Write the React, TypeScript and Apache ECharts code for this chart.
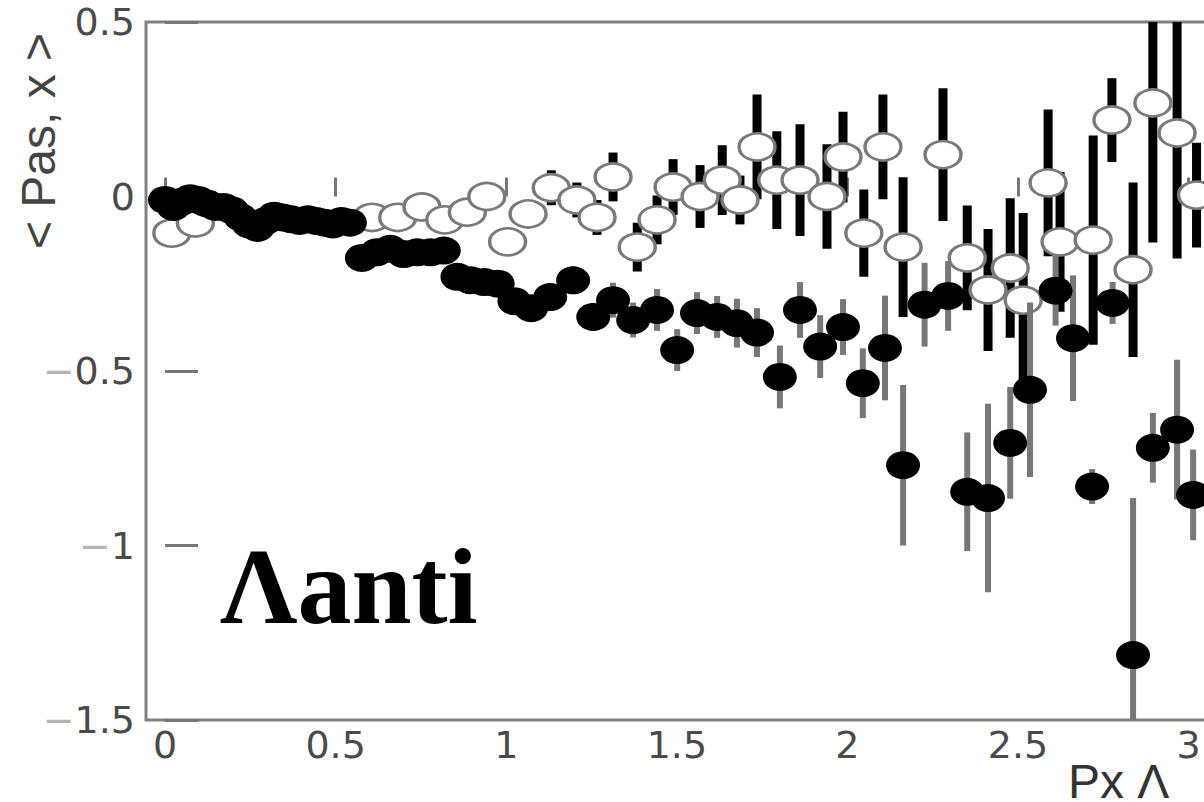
import { useEffect, useRef } from 'react';
import * as echarts from 'echarts';

const X_TICKS = [0, 0.5, 1, 1.5, 2, 2.5, 3];
const Y_TICKS = [-1.5, -1, -0.5, 0, 0.5];

// filled markers (Λanti)
const FILLED_X = [
  0, 0.025, 0.049, 0.074, 0.098, 0.123, 0.148, 0.172, 0.197, 0.222, 0.246, 0.271, 0.295, 0.32, 0.345, 0.369, 0.394, 0.419, 0.443, 0.468, 0.492, 0.517, 0.542,
  0.577, 0.62, 0.66, 0.699, 0.739, 0.778, 0.817, 0.857, 0.896, 0.936, 0.975, 1.024, 1.073,
  1.129, 1.196, 1.255, 1.313, 1.372, 1.442, 1.501, 1.559, 1.618, 1.676, 1.735, 1.802, 1.861, 1.92, 1.987,
  2.045, 2.11, 2.163, 2.226, 2.295, 2.351, 2.412, 2.477, 2.535, 2.61, 2.661, 2.717, 2.777, 2.837, 2.895, 2.966, 3.013,
];
const FILLED_Y = [
  -0.01, -0.03, -0.015, -0.005, -0.01, -0.02, -0.03, -0.03, -0.04, -0.06, -0.08, -0.09, -0.07, -0.055, -0.06, -0.065, -0.07, -0.065, -0.07, -0.075, -0.08, -0.07, -0.075,
  -0.176, -0.16, -0.15, -0.165, -0.16, -0.16, -0.155, -0.23, -0.24, -0.245, -0.25, -0.3, -0.32,
  -0.288, -0.24, -0.345, -0.297, -0.354, -0.325, -0.44, -0.334, -0.345, -0.363, -0.39, -0.517, -0.325, -0.43, -0.374,
  -0.535, -0.434, -0.77, -0.31, -0.285, -0.846, -0.864, -0.706, -0.554, -0.27, -0.406, -0.831, -0.305, -1.314, -0.72, -0.668, -0.855,
];
const FILLED_ERR = [
  0.02, 0.02, 0.02, 0.02, 0.02, 0.02, 0.02, 0.02, 0.02, 0.02, 0.02, 0.02, 0.02, 0.02, 0.02, 0.02, 0.02, 0.02, 0.02, 0.02, 0.02, 0.02, 0.02,
  0.03, 0.03, 0.03, 0.03, 0.03, 0.03, 0.03, 0.03, 0.03, 0.03, 0.03, 0.03, 0.03,
  0.04, 0.04, 0.04, 0.05, 0.05, 0.06, 0.06, 0.06, 0.06, 0.07, 0.07, 0.09, 0.08, 0.09, 0.08,
  0.1, 0.15, 0.23, 0.12, 0.1, 0.17, 0.27, 0.16, 0.25, 0.1, 0.18, 0.05, 0.06, 0.45, 0.1, 0.2, 0.13,
];

// open markers
const OPEN_X = [
  0.02, 0.089, 0.607, 0.682, 0.753, 0.82, 0.886, 0.943, 1.004, 1.064,
  1.132, 1.207, 1.266, 1.313, 1.384, 1.442, 1.489, 1.568, 1.633, 1.685, 1.735, 1.793, 1.861, 1.94, 1.987,
  2.048, 2.104, 2.163, 2.28, 2.351, 2.412, 2.477, 2.515, 2.588, 2.623, 2.72, 2.775, 2.837, 2.895, 2.966, 3.023,
];
const OPEN_Y = [
  -0.105, -0.076, -0.06, -0.06, -0.03, -0.067, -0.045, 0.0, -0.13, -0.05,
  0.025, -0.01, -0.06, 0.056, -0.145, -0.067, 0.027, 0.0, 0.047, -0.01, 0.142, 0.047, 0.047, 0.0, 0.113,
  -0.105, 0.142, -0.145, 0.12, -0.176, -0.268, -0.205, -0.297, 0.039, -0.13, -0.125, 0.219, -0.21, 0.268, 0.182, 0.004,
];
const OPEN_ERR = [
  0.02, 0.02, 0.03, 0.03, 0.03, 0.03, 0.03, 0.04, 0.04, 0.04,
  0.05, 0.05, 0.05, 0.07, 0.07, 0.07, 0.08, 0.09, 0.1, 0.07, 0.15, 0.14, 0.16, 0.15, 0.13,
  0.125, 0.15, 0.2, 0.19, 0.15, 0.175, 0.2, 0.25, 0.21, 0.2, 0.3, 0.12, 0.25, 0.4, 0.36, 0.15,
];

const X_MIN = -0.0557;
const X_MAX = 3.25;

const errSeries = (xs: number[], ys: number[], es: number[], color: string, width: number, z: number) => ({
  type: 'custom',
  z,
  clip: true,
  silent: true,
  data: xs.map((x, i) => [x, ys[i] - es[i], ys[i] + es[i]]),
  encode: { x: 0, y: [1, 2] },
  renderItem: (_params: any, api: any) => {
    const a = api.coord([api.value(0), api.value(1)]);
    const b = api.coord([api.value(0), api.value(2)]);
    return {
      type: 'line',
      shape: { x1: a[0], y1: a[1], x2: b[0], y2: b[1] },
      style: { stroke: color, lineWidth: width },
    };
  },
});

const fmtY = (v: number) => {
  if (v < 0) return `{m|−}{n|${String(Math.abs(v))}}`;
  return `{n|${String(v)}}`;
};

export default function App() {
  const ref = useRef<HTMLDivElement>(null);
  useEffect(() => {
    const chart = echarts.init(ref.current!, null, { renderer: 'svg' });
    const labelFont = { fontFamily: 'DejaVu Sans', fontSize: 38, color: '#4a4a4a' };
    chart.setOption({
      animation: false,
      backgroundColor: '#fff',
      grid: {
        show: true,
        left: 146,
        top: 22,
        bottom: 82,
        right: 0,
        borderColor: '#808080',
        borderWidth: 3,
        backgroundColor: 'transparent',
      },
      xAxis: {
        type: 'value',
        min: X_MIN,
        max: X_MAX,
        axisLine: { show: false },
        splitLine: { show: false },
        axisTick: {
          show: true,
          inside: true,
          length: 19,
          customValues: X_TICKS,
          lineStyle: { color: '#777', width: 3 },
        },
        axisLabel: {
          customValues: X_TICKS,
          margin: 6,
          ...labelFont,
          formatter: (v: number) => String(v),
        },
      },
      yAxis: {
        type: 'value',
        min: -1.5,
        max: 0.5,
        axisLine: { show: false },
        splitLine: { show: false },
        axisTick: {
          show: true,
          inside: true,
          length: 33,
          customValues: Y_TICKS,
          lineStyle: { color: '#777', width: 3 },
        },
        axisLabel: {
          customValues: Y_TICKS,
          margin: 11,
          formatter: fmtY,
          rich: {
            m: { fontFamily: 'DejaVu Sans', fontSize: 38, color: '#b5b5b5' },
            n: { ...labelFont },
          },
        },
      },
      graphic: [
        {
          type: 'text',
          x: 220,
          y: 586,
          style: {
            text: 'Λanti',
            font: 'bold 108px "Liberation Serif"',
            fill: '#000',
            align: 'left',
            verticalAlign: 'middle',
            textAlign: 'left',
            textVerticalAlign: 'middle',
          },
        },
        {
          type: 'text',
          x: 38,
          y: 141,
          rotation: Math.PI / 2,
          style: {
            text: '< Pas, x >',
            font: '48px "Liberation Sans"',
            fill: '#444',
            align: 'center',
            verticalAlign: 'middle',
            textAlign: 'center',
            textVerticalAlign: 'middle',
          },
        },
        {
          type: 'text',
          x: 1068,
          y: 781,
          style: {
            text: 'Px Λ',
            font: '48px "Liberation Sans"',
            lineHeight: 34,
            fill: '#333',
            align: 'left',
            verticalAlign: 'middle',
            textAlign: 'left',
            textVerticalAlign: 'middle',
          },
        },
      ],
      series: [
        errSeries(OPEN_X, OPEN_Y, OPEN_ERR, '#000', 9, 1),
        {
          type: 'scatter',
          z: 2,
          symbol: 'circle',
          symbolSize: [36, 27],
          data: OPEN_X.map((x, i) => [x, OPEN_Y[i]]),
          itemStyle: { color: '#fff', borderColor: '#7a7a7a', borderWidth: 3, opacity: 1 },
          silent: true,
        },
        errSeries(FILLED_X, FILLED_Y, FILLED_ERR, '#777', 6, 3),
        {
          type: 'scatter',
          z: 4,
          symbol: 'circle',
          symbolSize: [34, 28],
          data: FILLED_X.map((x, i) => [x, FILLED_Y[i]]),
          itemStyle: { color: '#000', opacity: 1 },
          silent: true,
        },
      ],
    });
    return () => chart.dispose();
  }, []);
  return (
    <div style={{ position: 'absolute', left: 0, top: 0, width: 1204, height: 802, overflow: 'hidden', background: '#fff' }}>
      <div ref={ref} style={{ width: 1274, height: 802 }} />
    </div>
  );
}
